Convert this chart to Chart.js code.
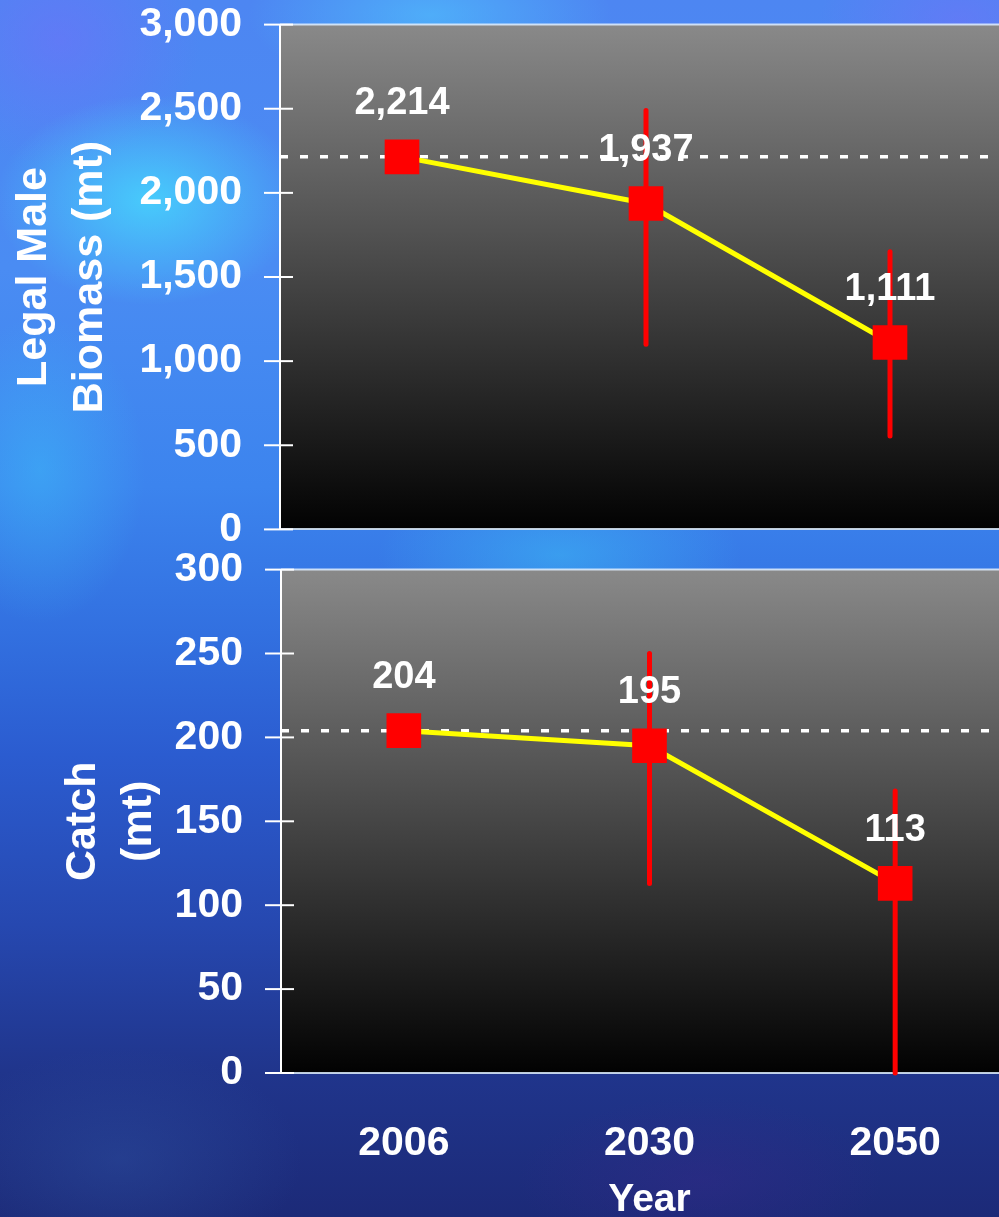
<!DOCTYPE html>
<html>
<head>
<meta charset="utf-8">
<script src="https://cdn.jsdelivr.net/npm/chart.js@4.4.1/dist/chart.umd.min.js"></script>
<style>
  html, body { margin: 0; padding: 0; width: 999px; height: 1217px; overflow: hidden; }
  body {
    position: relative;
    background:
      radial-gradient(ellipse 220px 150px at 150px 200px, rgba(70,225,255,0.75), rgba(70,225,255,0) 70%),
      radial-gradient(ellipse 260px 110px at 430px 15px, rgba(80,205,255,0.55), rgba(80,205,255,0) 70%),
      radial-gradient(ellipse 150px 220px at 40px 470px, rgba(60,195,250,0.45), rgba(60,195,250,0) 70%),
      radial-gradient(ellipse 260px 110px at 560px 555px, rgba(60,185,245,0.55), rgba(60,185,245,0) 70%),
      radial-gradient(ellipse 200px 180px at 60px 40px, rgba(115,110,250,0.5), rgba(115,110,250,0) 70%),
      radial-gradient(ellipse 200px 120px at 960px 20px, rgba(120,110,250,0.45), rgba(120,110,250,0) 70%),
      radial-gradient(ellipse 260px 160px at 120px 1160px, rgba(50,90,170,0.35), rgba(50,90,170,0) 70%),
      radial-gradient(ellipse 260px 120px at 700px 1180px, rgba(60,40,140,0.35), rgba(60,40,140,0) 70%),
      linear-gradient(180deg, #4d86f2 0%, #4a8cf3 22%, #3c84ee 40%, #3270e0 52%, #2b5cd0 62%, #2648b0 76%, #20358c 88%, #1c2a78 100%);
  }
  .panel { position: absolute; left: 0; }
  #topPanel { top: 0; }
  #bottomPanel { top: 545px; }
  canvas { display: block; }
</style>
</head>
<body>
<div class="panel" id="topPanel"><canvas id="biomassChart" width="1012" height="554"></canvas></div>
<div class="panel" id="bottomPanel"><canvas id="catchChart" width="1018" height="700"></canvas></div>
<script>
// Projection years
const years = ['2006', '2030', '2050'];

// Legal male biomass (mt): point estimates and interval ends
const biomass = [2214, 1937, 1111];
const biomassLow = [null, 1100, 555];
const biomassHigh = [null, 2490, 1650];
const biomassRef = 2214;
const biomassTicks = [0, 500, 1000, 1500, 2000, 2500, 3000];

// Catch (mt): point estimates and interval ends
const catchMt = [204, 195, 113];
const catchLow = [null, 113, 0];
const catchHigh = [null, 250, 168];
const catchRef = 204;
const catchTicks = [0, 50, 100, 150, 200, 250, 300];

const FONT = "'Liberation Sans', Arial, Helvetica, sans-serif";
Chart.defaults.font.family = FONT;
Chart.defaults.color = '#ffffff';

const fmt = v => Number(v).toLocaleString('en-US');

// Shaded plot panel, axis ticks, reference line, error bars and value labels
const panelPlugin = {
  id: 'panel',
  beforeDraw(chart) {
    const { ctx, chartArea: a } = chart;
    const g = ctx.createLinearGradient(0, a.top, 0, a.bottom);
    g.addColorStop(0, '#898989');
    g.addColorStop(1, '#020202');
    ctx.save();
    ctx.fillStyle = g;
    ctx.fillRect(a.left, a.top, a.right - a.left, a.bottom - a.top);
    ctx.restore();
  },
  beforeDatasetsDraw(chart, args, opts) {
    const { ctx, chartArea: a } = chart;
    const ys = chart.scales.y;
    ctx.save();
    // top rule
    ctx.strokeStyle = 'rgba(225,240,255,0.85)';
    ctx.lineWidth = 2;
    ctx.beginPath();
    ctx.moveTo(a.left, a.top);
    ctx.lineTo(a.right, a.top);
    ctx.stroke();
    // tick marks crossing the value axis
    ctx.strokeStyle = '#ffffff';
    ys.ticks.forEach(t => {
      const y = ys.getPixelForValue(t.value);
      ctx.beginPath();
      ctx.moveTo(a.left - 16, y);
      ctx.lineTo(a.left + 13, y);
      ctx.stroke();
    });
    // dotted reference level
    const ry = ys.getPixelForValue(opts.ref);
    ctx.setLineDash([8, 12]);
    ctx.lineWidth = 3.5;
    ctx.beginPath();
    ctx.moveTo(a.left, ry);
    ctx.lineTo(a.right, ry);
    ctx.stroke();
    ctx.setLineDash([]);
    // error bars
    const meta = chart.getDatasetMeta(0);
    ctx.strokeStyle = '#ff0000';
    ctx.lineWidth = 5;
    ctx.lineCap = 'round';
    opts.low.forEach((lo, i) => {
      const hi = opts.high[i];
      if (lo == null || hi == null) return;
      const x = meta.data[i].x;
      ctx.beginPath();
      ctx.moveTo(x, ys.getPixelForValue(hi));
      ctx.lineTo(x, ys.getPixelForValue(lo));
      ctx.stroke();
    });
    ctx.restore();
  },
  afterDatasetsDraw(chart) {
    const { ctx } = chart;
    const meta = chart.getDatasetMeta(0);
    const data = chart.data.datasets[0].data;
    ctx.save();
    ctx.fillStyle = '#ffffff';
    ctx.font = 'bold 38px ' + FONT;
    ctx.textAlign = 'center';
    ctx.textBaseline = 'middle';
    meta.data.forEach((pt, i) => {
      ctx.fillText(fmt(data[i]), pt.x, pt.y - 53);
    });
    ctx.restore();
  }
};

function makeChart(id, values, cfg) {
  return new Chart(document.getElementById(id), {
    type: 'line',
    data: {
      labels: years,
      datasets: [{
        data: values,
        borderColor: '#ffff00',
        borderWidth: 5,
        tension: 0,
        pointStyle: 'rect',
        pointRadius: 24.5,
        pointHoverRadius: 24.5,
        pointBackgroundColor: '#ff0000',
        pointBorderWidth: 0,
        clip: false
      }]
    },
    options: {
      responsive: false,
      animation: false,
      events: [],
      layout: { padding: 0, autoPadding: false },
      plugins: {
        legend: { display: false },
        tooltip: { enabled: false },
        panel: { ref: cfg.ref, low: cfg.low, high: cfg.high }
      },
      scales: {
        x: {
          type: 'category',
          offset: true,
          grid: { display: false, drawTicks: false },
          border: { display: true, color: 'rgba(225,240,255,0.85)', width: 2 },
          ticks: {
            display: cfg.showYears,
            color: '#ffffff',
            font: { size: 41, weight: 'bold', lineHeight: 1.2 },
            padding: 46,
            maxRotation: 0,
            autoSkip: false
          },
          title: {
            display: cfg.showYears,
            text: 'Year',
            color: '#ffffff',
            font: { size: 39, weight: 'bold', lineHeight: 1.2 },
            padding: { top: 0, bottom: 21 }
          },
          afterFit: s => { s.height = cfg.xHeight; }
        },
        y: {
          min: 0,
          max: cfg.max,
          afterBuildTicks: s => { s.ticks = cfg.ticks.map(v => ({ value: v })); },
          grid: {
            display: true,
            drawOnChartArea: false,
            drawTicks: true,
            tickLength: 38,
            color: 'rgba(0,0,0,0)'
          },
          border: { display: true, color: '#ffffff', width: 2 },
          ticks: {
            color: '#ffffff',
            font: { size: 41, weight: 'bold', lineHeight: 1.2 },
            padding: 0,
            callback: v => fmt(v)
          },
          title: {
            display: true,
            text: cfg.title,
            color: '#ffffff',
            font: { size: 43, weight: 'bold', lineHeight: 1.3 },
            padding: { top: cfg.titlePad, bottom: 0 }
          },
          afterFit: s => { s.width = cfg.yWidth; }
        }
      }
    },
    plugins: [panelPlugin]
  });
}

makeChart('biomassChart', biomass, {
  ref: biomassRef, low: biomassLow, high: biomassHigh,
  max: 3000, ticks: biomassTicks,
  title: ['Legal Male', 'Biomass (mt)'], titlePad: 6,
  yWidth: 280, xHeight: 0, showYears: false
});

makeChart('catchChart', catchMt, {
  ref: catchRef, low: catchLow, high: catchHigh,
  max: 300, ticks: catchTicks,
  title: ['Catch', '(mt)'], titlePad: 55,
  yWidth: 281, xHeight: 172, showYears: true
});
</script>
</body>
</html>
